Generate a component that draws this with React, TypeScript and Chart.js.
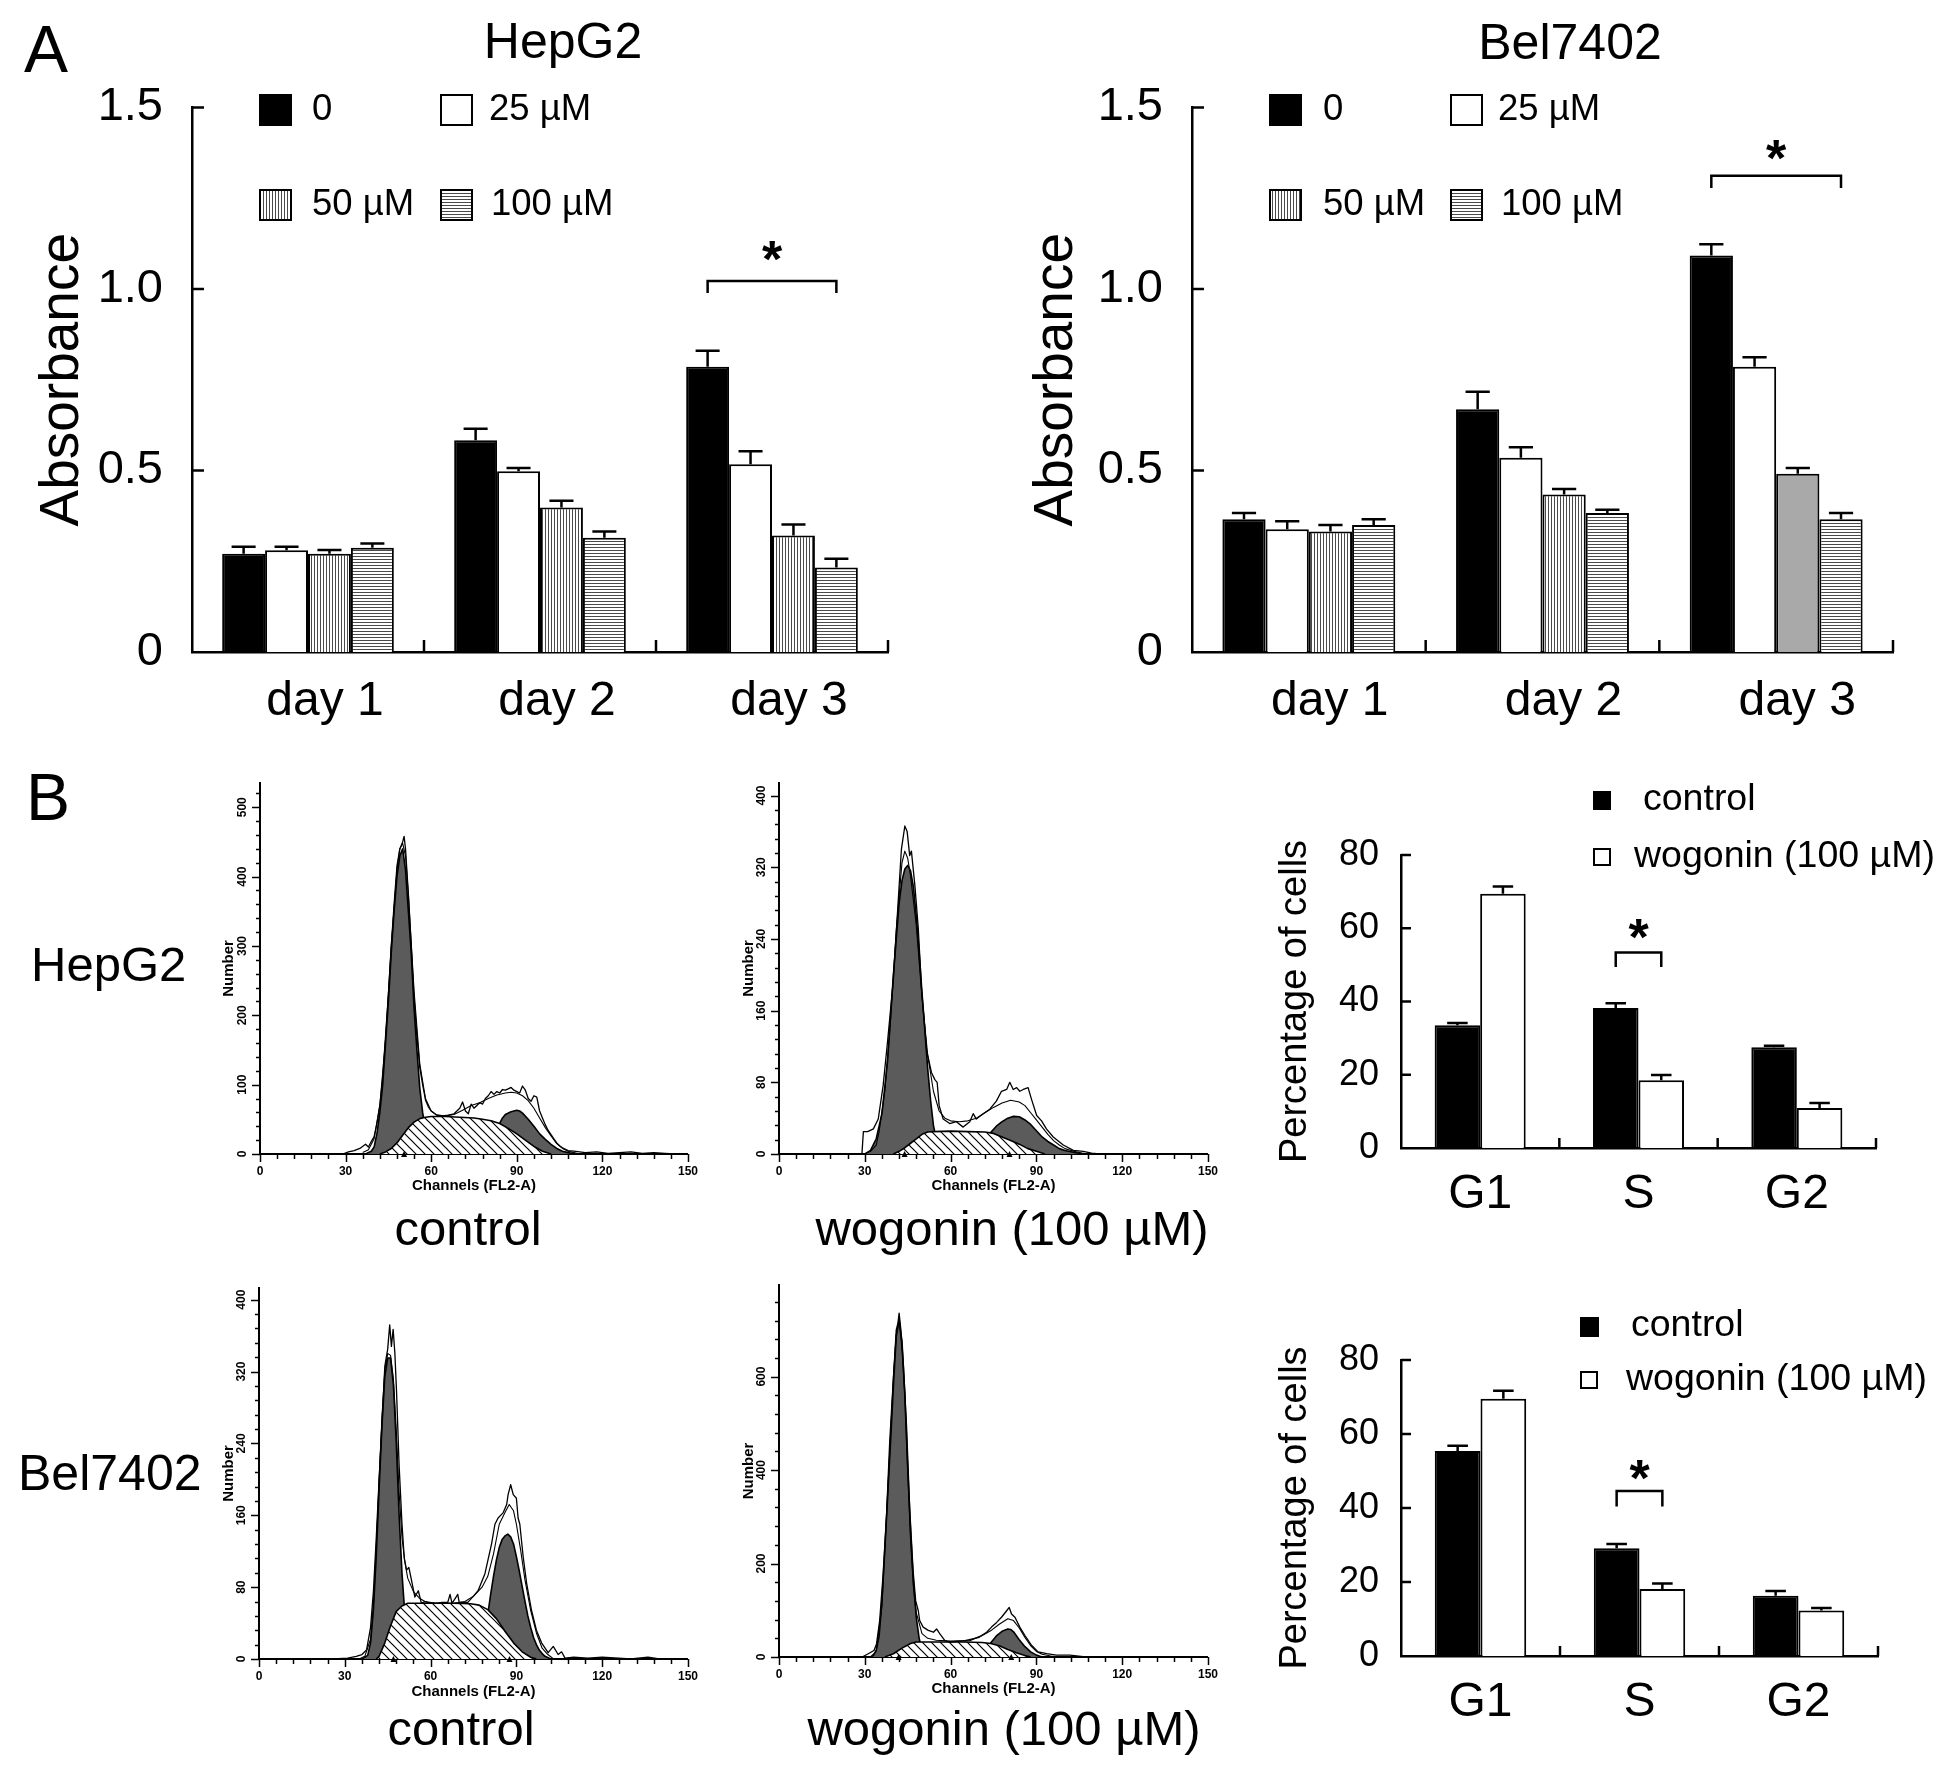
import React, { useEffect, useRef } from 'react';
import { Chart, registerables } from 'chart.js';

Chart.register(...registerables);

const FONT = '"Liberation Sans", Arial, Helvetica, sans-serif';

// ---------------- Panel A : absorbance ----------------
const dayLabels = ['day 1', 'day 2', 'day 3'];
const doseLabels = ['0', '25 µM', '50 µM', '100 µM'];
const absTickValues = [0, 0.5, 1.0, 1.5];

const hepAbs0 = [0.271, 0.583, 0.786];
const hepAbs25 = [0.28, 0.498, 0.517];
const hepAbs50 = [0.271, 0.398, 0.321];
const hepAbs100 = [0.287, 0.315, 0.233];
const hepAbsErr0 = [0.019, 0.032, 0.044];
const hepAbsErr25 = [0.01, 0.009, 0.036];
const hepAbsErr50 = [0.01, 0.019, 0.03];
const hepAbsErr100 = [0.012, 0.017, 0.024];

const belAbs0 = [0.366, 0.669, 1.092];
const belAbs25 = [0.338, 0.535, 0.786];
const belAbs50 = [0.332, 0.434, 0.491];
const belAbs100 = [0.35, 0.383, 0.366];
const belAbsErr0 = [0.017, 0.048, 0.031];
const belAbsErr25 = [0.022, 0.029, 0.026];
const belAbsErr50 = [0.018, 0.015, 0.016];
const belAbsErr100 = [0.016, 0.009, 0.017];

// significance bracket (category, from dataset, to dataset, bracket top, leg end, star centre)
const hepAbsSig = { cat: 2, from: 0, to: 3, top: 1.022, leg: 0.989, star: 1.114 };
const belAbsSig = { cat: 2, from: 0, to: 3, top: 1.312, leg: 1.278, star: 1.394 };

// ---------------- Panel B : cell cycle ----------------
const cycleLabels = ['G1', 'S', 'G2'];
const cycleSeries = ['control', 'wogonin (100 µM)'];
const cycleTickValues = [0, 20, 40, 60, 80];

const hepCycleControl = [33.5, 38.2, 27.5];
const hepCycleControlErr = [0.6, 1.3, 0.4];
const hepCycleWogonin = [69.4, 18.5, 10.9];
const hepCycleWogoninErr = [2.0, 1.4, 1.4];
const belCycleControl = [55.4, 29.1, 16.3];
const belCycleControlErr = [1.4, 1.2, 1.3];
const belCycleWogonin = [69.5, 18.1, 12.3];
const belCycleWogoninErr = [2.2, 1.5, 0.7];

const hepCycleSig = { cat: 1, from: 0, to: 1, top: 53.4, leg: 49.4, star: 60.9 };
const belCycleSig = { cat: 1, from: 0, to: 1, top: 44.6, leg: 40.4, star: 51.2 };

// ---------------- Panel B : DNA histograms [channel, number] ----------------
const channelTickLabels = [0, 30, 60, 90, 120, 150];

// HepG2 control
const h1Raw = [[29,0],[31,3],[33,5],[35,8],[37,14],[38,10],[39,18],[40,25],[41,45],[42,70],[43,110],[44,170],[45,230],[46,300],[47,360],[48,415],[49,440],[50,450],[50.5,458],[51,440],[52,375],[53,300],[54,225],[55,170],[56,125],[57,100],[58,78],[59,68],[60,62],[62,56],[64,55],[66,56],[68,58],[70,66],[71,75],[72,62],[73,58],[74,72],[75,66],[76,70],[77,74],[78,72],[79,80],[80,84],[81,90],[82,86],[83,90],[84,88],[85,93],[86,92],[87,94],[88,96],[89,92],[90,90],[91,88],[92,98],[93,92],[94,80],[95,76],[96,84],[97,82],[98,62],[99,52],[100,42],[101,34],[102,28],[103,22],[104,16],[105,12],[106,9],[108,5],[110,4],[114,2],[118,3],[122,1],[126,2],[130,3],[134,1],[138,2],[142,1],[145,0]];
const h1Fit = [[36,2],[38,6],[40,22],[42,70],[44,165],[46,300],[48,410],[49,440],[50,448],[51,430],[52,375],[54,235],[56,130],[58,80],[60,62],[62,56],[65,55],[68,57],[71,63],[74,70],[77,74],[80,80],[83,85],[86,88],[88,89],[90,88],[92,84],[94,77],[96,66],[98,52],[100,38],[102,26],[104,15],[106,8],[108,4],[110,2],[112,0]];
const h1G1 = [[37,0],[39,4],[40,10],[41,30],[42,60],[43,100],[44,160],[45,220],[46,290],[47,350],[48,400],[49,430],[50,440],[51,410],[52,350],[53,290],[54,210],[55,150],[56,95],[57,60],[58,35],[59,18],[60,8],[61,3],[62,0]];
const h1S = [[42,0],[44,3],[46,8],[48,16],[50,27],[52,38],[54,46],[56,51],[58,53],[60,54],[65,54],[70,53],[75,52],[78,50],[81,48],[84,44],[87,37],[90,29],[93,20],[96,11],[99,4],[102,0]];
const h1G2 = [[76,0],[78,5],[80,14],[82,28],[84,44],[85,52],[86,57],[88,61],[90,63],[91,62],[92,59],[94,50],[96,40],[98,29],[100,21],[102,14],[104,8],[106,4],[108,2],[110,0]];
const h1Markers = [50.5];
const h1YLabels = [0, 100, 200, 300, 400, 500];

// HepG2 wogonin
const h2Raw = [[29,0],[29.5,25],[31,25],[33,28],[34.7,39],[36.4,76],[38,127],[40,195],[41.6,278],[42.8,340],[44,366],[44.8,360],[45.7,333],[46.3,338],[47.5,300],[48.7,252],[49.8,186],[51.6,116],[53.3,91],[54.5,83],[55.3,80],[56,54],[57.4,39],[59.7,34],[62,36],[64.4,30],[66.7,36],[67.9,45],[69,39],[71.4,45],[73.7,50],[76,59],[77.8,70],[79.6,72],[80.7,80],[81.9,72],[83.1,74],[84.2,70],[85.4,72],[87.1,74],[88.3,61],[90.1,43],[91.8,37],[93.5,28],[95.9,19],[99.4,10],[102.9,4],[106.4,3],[109.3,1],[112,0]];
const h2Fit = [[30,0],[32,3],[34,10],[35,25],[37,70],[39,150],[41,250],[43,325],[44,338],[45,330],[46,310],[48,255],[50,175],[52,110],[54,70],[56,48],[58,40],[60,37],[63,36],[66,37],[69,40],[72,46],[75,52],[78,57],[81,60],[84,58],[86,54],[88,46],[90,38],[92,30],[94,22],[96,15],[98,10],[100,6],[103,3],[106,1],[108,0]];
const h2G1 = [[30,0],[32,4],[34,17],[36,45],[38,105],[40,200],[42,280],[43,305],[44,318],[45,322],[46,316],[47,298],[48,265],[49,225],[50,180],[51,138],[52,95],[53,60],[54,32],[55,16],[56,7],[57,2],[58,0]];
const h2S = [[40,0],[42,3],[44,7],[46,12],[48,17],[50,22],[52,24.5],[54,25],[60,25.5],[66,25],[72,24.5],[75,23],[78,19],[81,15],[84,11],[87,6],[90,3],[93,0]];
const h2G2 = [[68,0],[70,4],[72,12],[74,24],[76,31],[78,36],[80,40],[82,42],[84,41.5],[86,38],[88,33],[90,26],[92,19],[94,14],[96,10],[98,6],[100,4],[103,2],[106,0]];
const h2Markers = [43.9, 80.6];
const h2YLabels = [0, 80, 160, 240, 320, 400];

// Bel7402 control
const b1Raw = [[26,0],[31,1],[34,3],[36,5],[37.6,10],[39,35],[40,75],[41,135],[42,200],[43,262],[44,326],[45,345],[45.7,372],[46.3,348],[46.9,367],[47.5,341],[48.1,297],[49,215],[50,150],[50.8,112],[51.6,99],[52.4,102],[53.3,88],[54.5,69],[55.7,76],[56.8,62],[58,64],[60,62],[62,62],[64,63],[66,63],[66.8,72],[67.5,62],[69.5,72],[70,63],[73,63],[75,70],[76.6,76],[79,95],[81.3,128],[82.5,150],[83.6,157],[85.4,163],[86.6,172],[87.1,183],[88,194],[88.9,183],[90,179],[90.6,157],[91.2,150],[92.4,113],[93.6,84],[95.3,54],[97,32],[98.8,18],[101.1,7],[102.9,14],[104.6,5],[105.8,8],[107,1],[110,2],[115,1],[120,2],[130,0],[136,2],[140,0]];
const b1Fit = [[35,0],[37,3],[39,22],[40,60],[41,125],[42,200],[43,270],[44,322],[45,340],[46,338],[47,312],[48,255],[49,185],[50,135],[51,108],[52,90],[54,75],[56,68],[58,64],[62,62],[68,62],[72,64],[75,70],[78,80],[80,92],[82,117],[84,150],[86,163],[87.5,172],[89,165],[90,150],[91.5,121],[93,88],[95,54],[97,29],[99,12],[101,5],[103,0]];
const b1G1 = [[36,0],[38,4],[39,18],[40,55],[41,115],[42,190],[43,260],[44,315],[45,335],[46,335],[47,305],[48,240],[49,160],[50,95],[51,50],[52,22],[53,8],[54,2],[55,0]];
const b1S = [[41,0],[42,3],[44,18],[46,37],[48,53],[50,59],[52,62],[56,62],[62,62],[68,62],[74,61.5],[77,60],[80,55],[83,45],[86,31],[89,18],[92,8],[95,2],[97,0]];
const b1G2 = [[76,0],[78,15],[80,50],[81,72],[82,92],[83,110],[84,124],[85,133],[86,137],[87,139],[88,136],[89,128],[90,114],[91,98],[92,81],[93,64],[94,48],[95,35],[96,24],[97,16],[98,10],[99,6],[100,3],[102,0]];
const b1Markers = [47, 87.6];
const b1YLabels = [0, 80, 160, 240, 320, 400];

// Bel7402 wogonin
const b2Raw = [[29.4,1],[31.2,7],[33.2,14],[34.1,28],[35.2,78],[36.4,177],[37.6,304],[38.7,460],[39.9,587],[41,700],[41.6,715],[42,736],[42.5,707],[43.4,637],[44.6,495],[45.7,318],[46.9,184],[47.8,120],[48.7,99],[49.2,78],[50.4,64],[52.2,57],[54,53],[55.1,60],[56.2,50],[58,35],[59.7,32],[63.2,34],[66.7,35],[70.2,44],[72.6,53],[74.3,64],[76.1,74],[77.8,85],[79.6,99],[80.5,106],[81.3,92],[82.5,85],[84.2,64],[86,46],[88.3,25],[90.6,11],[93.6,7],[97,4],[101.7,4],[106.4,1],[110,0]];
const b2Fit = [[32,0],[34,12],[36,110],[38,350],[40,600],[41,690],[42,720],[43,660],[44,560],[45,400],[46,250],[47,150],[48,95],[50,50],[52,40],[55,36],[60,34],[65,35],[70,42],[74,56],[77,70],[80,82],[82,78],[84,62],[86,42],[88,24],[90,12],[92,6],[95,2],[98,0]];
const b2G1 = [[32,0],[33,3],[34,15],[35,45],[36,120],[37,230],[38,345],[39,460],[40,580],[41,686],[42,722],[43,675],[44,560],[45,405],[46,270],[47,160],[48,85],[49,40],[50,15],[51,5],[52,0]];
const b2S = [[37,0],[40,7],[43,19],[46,29],[48,32],[55,32],[65,32],[71,31],[74,29],[77,24],[80,16],[83,9],[86,3],[88,0]];
const b2G2 = [[70,0],[72,12],[74,30],[76,45],[78,55],[80,60],[81,59],[82,54],[84,37],[86,22],[88,11],[90,4],[92,0]];
const b2Markers = [41.8, 81.2];
const b2YLabels = [0, 200, 400, 600];

// ---------------- helpers ----------------
function makeStripes(vertical: boolean) {
  const c = document.createElement('canvas');
  c.width = 3; c.height = 3;
  const g = c.getContext('2d')!;
  g.fillStyle = '#fff'; g.fillRect(0, 0, 3, 3);
  g.fillStyle = '#4a4a4a';
  if (vertical) g.fillRect(0, 0, 1, 3); else g.fillRect(0, 0, 3, 1);
  return g.createPattern(c, 'repeat');
}

function makeHatch() {
  const c = document.createElement('canvas');
  c.width = 9; c.height = 9;
  const g = c.getContext('2d')!;
  g.fillStyle = '#fff'; g.fillRect(0, 0, 9, 9);
  g.strokeStyle = '#000'; g.lineWidth = 1.2;
  g.beginPath();
  g.moveTo(-1, -1); g.lineTo(10, 10);
  g.moveTo(-1, 8); g.lineTo(1, 10);
  g.moveTo(8, -1); g.lineTo(10, 1);
  g.stroke();
  return g.createPattern(c, 'repeat');
}

function barDecor(spec: any) {
  const { L, T } = spec.box;
  return {
    id: 'barDecor',
    afterDraw(chart: any) {
      const { ctx, chartArea: a, scales } = chart;
      const ys = scales.y;
      ctx.save();
      ctx.strokeStyle = '#000';
      ctx.fillStyle = '#000';
      // error bars
      ctx.lineWidth = spec.errWidth;
      chart.data.datasets.forEach((ds: any, d: number) => {
        const meta = chart.getDatasetMeta(d);
        meta.data.forEach((el: any, i: number) => {
          const p = el.getProps(['x', 'y', 'width'], true);
          const yE = ys.getPixelForValue(ds.data[i] + spec.series[d].err[i]);
          const cw = p.width * spec.capRatio;
          ctx.beginPath();
          ctx.moveTo(p.x, p.y); ctx.lineTo(p.x, yE);
          ctx.moveTo(p.x - cw / 2, yE); ctx.lineTo(p.x + cw / 2, yE);
          ctx.stroke();
        });
      });
      // inward tick marks
      ctx.lineWidth = spec.axisWidth;
      ys.ticks.forEach((t: any) => {
        if (t.value === 0) return;
        const py = ys.getPixelForValue(t.value);
        ctx.beginPath(); ctx.moveTo(a.left, py); ctx.lineTo(a.left + spec.tickLen, py); ctx.stroke();
      });
      const n = chart.data.labels.length;
      for (let i = 1; i <= n; i++) {
        const px = a.left + ((a.right - a.left) * i) / n;
        ctx.beginPath(); ctx.moveTo(px, a.bottom); ctx.lineTo(px, a.bottom - spec.tickLen); ctx.stroke();
      }
      // significance bracket
      const s = spec.sig;
      const x1 = chart.getDatasetMeta(s.from).data[s.cat].x;
      const x2 = chart.getDatasetMeta(s.to).data[s.cat].x;
      const yT = ys.getPixelForValue(s.top);
      const yL = ys.getPixelForValue(s.leg);
      ctx.lineWidth = spec.bracketWidth;
      ctx.beginPath();
      ctx.moveTo(x1, yL); ctx.lineTo(x1, yT); ctx.lineTo(x2, yT); ctx.lineTo(x2, yL);
      ctx.stroke();
      ctx.font = `bold ${spec.starSize}px ${FONT}`;
      ctx.textAlign = 'center';
      ctx.textBaseline = 'alphabetic';
      ctx.fillText('*', (x1 + x2) / 2, ys.getPixelForValue(s.star) + 0.57 * spec.starSize);
      // legend
      ctx.font = `${spec.legendFont}px ${FONT}`;
      ctx.textAlign = 'left';
      ctx.textBaseline = 'middle';
      spec.legend.forEach((it: any) => {
        const ds = chart.data.datasets[it.ds];
        const bg = Array.isArray(ds.backgroundColor) ? ds.backgroundColor[0] : ds.backgroundColor;
        const [sx, sy, sw, sh] = it.sq;
        ctx.fillStyle = bg;
        ctx.fillRect(sx - L, sy - T, sw, sh);
        ctx.lineWidth = 2;
        ctx.strokeRect(sx - L + 1, sy - T + 1, sw - 2, sh - 2);
        ctx.fillStyle = '#000';
        ctx.fillText(ds.label, it.tx - L, it.ty - T);
      });
      ctx.restore();
    },
  };
}

function makeBarConfig(spec: any) {
  const { L, T, W, H, axL, axR, axT, axB } = spec.box;
  return {
    type: 'bar',
    data: {
      labels: spec.labels,
      datasets: spec.series.map((s: any) => ({
        label: s.label,
        data: s.data,
        backgroundColor: s.fill,
        borderColor: '#000',
        borderWidth: spec.barBorder,
        borderSkipped: 'bottom',
        categoryPercentage: spec.catPct,
        barPercentage: 1,
      })),
    },
    options: {
      animation: false,
      responsive: false,
      devicePixelRatio: 1,
      layout: { padding: { top: axT - T, right: L + W - axR, left: 0, bottom: 0 } },
      plugins: { legend: { display: false }, tooltip: { enabled: false } },
      scales: {
        x: {
          grid: { display: false, drawTicks: false },
          border: { display: true, color: '#000', width: spec.axisWidth },
          ticks: { color: '#000', padding: spec.catPad, labelOffset: spec.catOffset, font: { family: FONT, size: spec.catFont, lineHeight: 1 } },
          afterFit: (sc: any) => { sc.height = T + H - axB; },
        },
        y: {
          min: 0,
          max: spec.yMax,
          grid: { display: false, drawTicks: false },
          border: { display: true, color: '#000', width: spec.axisWidth },
          afterBuildTicks: (sc: any) => { sc.ticks = spec.yTicks.map((v: number) => ({ value: v })); },
          ticks: { color: '#000', padding: spec.tickPad, font: { family: FONT, size: spec.tickFont, lineHeight: 1 }, callback: spec.yFmt },
          title: { display: true, text: spec.yTitle, color: '#000', padding: 0, font: { family: FONT, size: spec.yTitleSize, lineHeight: 1 } },
          afterFit: (sc: any) => { sc.width = axL - L; },
        },
      },
    },
    plugins: [barDecor(spec)],
  };
}

function histDecor(markers: number[]) {
  return {
    id: 'histDecor',
    afterDraw(chart: any) {
      const { ctx, chartArea: a, scales } = chart;
      const xs = scales.x;
      const ys = scales.y;
      ctx.save();
      ctx.strokeStyle = '#000';
      ctx.fillStyle = '#000';
      ctx.lineWidth = 1.5;
      ys.ticks.forEach((t: any) => {
        const py = Math.round(ys.getPixelForValue(t.value)) + 0.5;
        const len = t.label ? 8 : 4;
        ctx.beginPath(); ctx.moveTo(a.left - len, py); ctx.lineTo(a.left, py); ctx.stroke();
      });
      xs.ticks.forEach((t: any) => {
        const px = Math.round(xs.getPixelForValue(t.value)) + 0.5;
        const len = t.label ? 8 : 5;
        ctx.beginPath(); ctx.moveTo(px, a.bottom); ctx.lineTo(px, a.bottom + len); ctx.stroke();
      });
      markers.forEach((m) => {
        const px = xs.getPixelForValue(m);
        ctx.beginPath();
        ctx.moveTo(px - 3, a.bottom + 3); ctx.lineTo(px + 3, a.bottom + 3); ctx.lineTo(px, a.bottom - 3);
        ctx.closePath(); ctx.fill();
      });
      ctx.restore();
    },
  };
}

function makeHistConfig(spec: any) {
  const { L, T, W, H, axL, axR, axT, axB } = spec.box;
  const pts = (arr: number[][]) => arr.map(([x, y]) => ({ x, y }));
  const hatch = makeHatch();
  const gray = '#5b5b5b';
  return {
    type: 'line',
    data: {
      datasets: [
        { label: 'data', data: pts(spec.raw), borderColor: '#000', borderWidth: 1.3, fill: false, order: 0 },
        { label: 'fit', data: pts(spec.fit), borderColor: '#000', borderWidth: 1.1, fill: false, order: 1 },
        { label: 'S', data: pts(spec.s), borderColor: '#000', borderWidth: 1.6, backgroundColor: hatch, fill: 'origin', order: 2 },
        { label: 'G2', data: pts(spec.g2), borderColor: '#000', borderWidth: 1.6, backgroundColor: gray, fill: 'origin', order: 3 },
        { label: 'G1', data: pts(spec.g1), borderColor: '#000', borderWidth: 1.6, backgroundColor: gray, fill: 'origin', order: 4 },
      ],
    },
    options: {
      animation: false,
      responsive: false,
      devicePixelRatio: 1,
      elements: { point: { radius: 0 }, line: { tension: 0, borderJoinStyle: 'round' } },
      layout: { padding: { top: axT - T, right: L + W - axR, left: 0, bottom: 0 } },
      plugins: { legend: { display: false }, tooltip: { enabled: false } },
      scales: {
        x: {
          type: 'linear', min: 0, max: 150,
          grid: { display: false, drawTicks: false },
          border: { display: true, color: '#000', width: 2 },
          ticks: {
            stepSize: 6, autoSkip: false, maxRotation: 0, minRotation: 0, includeBounds: false, maxTicksLimit: 1000,
            padding: 12, color: '#000', font: { family: FONT, size: 12, weight: 'bold', lineHeight: 1 },
            callback: (v: number) => (channelTickLabels.includes(v) ? String(v) : ''),
          },
          title: { display: true, text: 'Channels (FL2-A)', color: '#000', padding: { top: 0, bottom: 7 }, font: { family: FONT, size: 15, weight: 'bold', lineHeight: 1 } },
          afterFit: (sc: any) => { sc.height = T + H - axB; },
        },
        y: {
          type: 'linear', min: 0, max: spec.yMax,
          grid: { display: false, drawTicks: false },
          border: { display: true, color: '#000', width: 2 },
          ticks: {
            stepSize: spec.yStep, autoSkip: false, includeBounds: false, maxTicksLimit: 1000,
            minRotation: 90, maxRotation: 90, crossAlign: 'center', padding: 7,
            color: '#000', font: { family: FONT, size: 12, weight: 'bold', lineHeight: 1 },
            callback: (v: number) => (spec.yLabels.includes(v) ? String(v) : ''),
          },
          title: { display: true, text: 'Number', color: '#000', padding: 0, font: { family: FONT, size: 15, weight: 'bold', lineHeight: 1 } },
          afterFit: (sc: any) => { sc.width = axL - L; },
        },
      },
    },
    plugins: [histDecor(spec.markers)],
  };
}

// ---------------- chart specs ----------------
const absFmt = (v: number) => (v === 0 ? '0' : Number(v).toFixed(1));

function absSpec(box: any, vals: number[][], errs: number[][], legend: any[], sig: any, solidLast50: boolean, catOffset: number) {
  const vs = makeStripes(true);
  const hs = makeStripes(false);
  const fills: any[] = ['#000', '#fff', solidLast50 ? [vs, vs, '#a9a9a9'] : vs, hs];
  return {
    box, labels: dayLabels,
    series: vals.map((v, d) => ({ label: doseLabels[d], data: v, err: errs[d], fill: fills[d] })),
    catPct: 0.74, yMax: 1.5, yTicks: absTickValues, yFmt: absFmt, yTitle: 'Absorbance', yTitleSize: 55,
    tickFont: 47, tickPad: 29, catFont: 48, catPad: 26, catOffset, barBorder: 2, axisWidth: 2.5, errWidth: 2.5,
    capRatio: 0.56, tickLen: 12, bracketWidth: 2.5, starSize: 52, legendFont: 36.5, legend, sig,
  };
}

function cycleSpec(box: any, vals: number[][], errs: number[][], legend: any[], sig: any) {
  const fills = ['#000', '#fff'];
  return {
    box, labels: cycleLabels,
    series: vals.map((v, d) => ({ label: cycleSeries[d], data: v, err: errs[d], fill: fills[d] })),
    catPct: 0.575, yMax: 80, yTicks: cycleTickValues, yFmt: (v: number) => String(v), yTitle: 'Percentage of cells', yTitleSize: 38,
    tickFont: 36, tickPad: 22, catFont: 48, catPad: 23, catOffset: 0, barBorder: 2, axisWidth: 2.5, errWidth: 2.5,
    capRatio: 0.45, tickLen: 10, bracketWidth: 2.5, starSize: 52, legendFont: 37.5, legend, sig,
  };
}

const charts: { box: any; make: () => any }[] = [
  {
    box: { L: 35, T: 55, W: 870, H: 690, axL: 192, axR: 888, axT: 100, axB: 652 },
    make: function () {
      return makeBarConfig(absSpec(this.box, [hepAbs0, hepAbs25, hepAbs50, hepAbs100], [hepAbsErr0, hepAbsErr25, hepAbsErr50, hepAbsErr100],
        [{ ds: 0, sq: [259, 94, 33, 32], tx: 312, ty: 110 }, { ds: 1, sq: [440, 94, 33, 32], tx: 489, ty: 110 },
         { ds: 2, sq: [259, 189, 33, 32], tx: 312, ty: 205 }, { ds: 3, sq: [440, 189, 33, 32], tx: 491, ty: 205 }], hepAbsSig, false, 17));
    },
  },
  {
    box: { L: 1029, T: 55, W: 881, H: 690, axL: 1192, axR: 1893, axT: 100, axB: 652 },
    make: function () {
      return makeBarConfig(absSpec(this.box, [belAbs0, belAbs25, belAbs50, belAbs100], [belAbsErr0, belAbsErr25, belAbsErr50, belAbsErr100],
        [{ ds: 0, sq: [1269, 94, 33, 32], tx: 1323, ty: 110 }, { ds: 1, sq: [1450, 94, 33, 32], tx: 1498, ty: 110 },
         { ds: 2, sq: [1269, 189, 33, 32], tx: 1323, ty: 205 }, { ds: 3, sq: [1450, 189, 33, 32], tx: 1501, ty: 205 }], belAbsSig, true, 21));
    },
  },
  {
    box: { L: 1277, T: 770, W: 663, H: 458, axL: 1401, axR: 1876, axT: 855, axB: 1148 },
    make: function () {
      return makeBarConfig(cycleSpec(this.box, [hepCycleControl, hepCycleWogonin], [hepCycleControlErr, hepCycleWogoninErr],
        [{ ds: 0, sq: [1593, 791, 18, 19], tx: 1643, ty: 800 }, { ds: 1, sq: [1593, 848, 18, 18], tx: 1634, ty: 857 }], hepCycleSig));
    },
  },
  {
    box: { L: 1277, T: 1290, W: 663, H: 446, axL: 1401, axR: 1878, axT: 1360, axB: 1656 },
    make: function () {
      return makeBarConfig(cycleSpec(this.box, [belCycleControl, belCycleWogonin], [belCycleControlErr, belCycleWogoninErr],
        [{ ds: 0, sq: [1580, 1317, 19, 20], tx: 1631, ty: 1326 }, { ds: 1, sq: [1580, 1371, 18, 18], tx: 1626, ty: 1380 }], belCycleSig));
    },
  },
  {
    box: { L: 221, T: 770, W: 489, H: 430, axL: 260, axR: 688, axT: 779, axB: 1154 },
    make: function () {
      return makeHistConfig({ box: this.box, raw: h1Raw, fit: h1Fit, g1: h1G1, s: h1S, g2: h1G2, markers: h1Markers, yMax: 535, yStep: 20, yLabels: h1YLabels });
    },
  },
  {
    box: { L: 741, T: 770, W: 489, H: 430, axL: 779, axR: 1208, axT: 778, axB: 1154 },
    make: function () {
      return makeHistConfig({ box: this.box, raw: h2Raw, fit: h2Fit, g1: h2G1, s: h2S, g2: h2G2, markers: h2Markers, yMax: 414, yStep: 16, yLabels: h2YLabels });
    },
  },
  {
    box: { L: 221, T: 1275, W: 489, H: 431, axL: 259, axR: 688, axT: 1285, axB: 1659 },
    make: function () {
      return makeHistConfig({ box: this.box, raw: b1Raw, fit: b1Fit, g1: b1G1, s: b1S, g2: b1G2, markers: b1Markers, yMax: 413, yStep: 16, yLabels: b1YLabels });
    },
  },
  {
    box: { L: 741, T: 1272, W: 489, H: 431, axL: 779, axR: 1208, axT: 1282, axB: 1657 },
    make: function () {
      return makeHistConfig({ box: this.box, raw: b2Raw, fit: b2Fit, g1: b2G1, s: b2S, g2: b2G2, markers: b2Markers, yMax: 796, yStep: 40, yLabels: b2YLabels });
    },
  },
];

function ChartBox({ spec }: { spec: { box: any; make: () => any } }) {
  const ref = useRef<HTMLCanvasElement>(null);
  useEffect(() => {
    const chart = new Chart(ref.current as HTMLCanvasElement, spec.make() as any);
    return () => chart.destroy();
  }, []);
  const { L, T, W, H } = spec.box;
  return (
    <canvas
      ref={ref}
      width={W}
      height={H}
      style={{ position: 'absolute', left: L, top: T, width: W, height: H }}
    />
  );
}

function Txt({ x, y, size, align = 'left', children }: any) {
  const style: any = {
    position: 'absolute',
    top: y - 0.8465 * size,
    fontSize: size,
    lineHeight: `${size}px`,
    fontFamily: FONT,
    whiteSpace: 'nowrap',
    color: '#000',
  };
  if (align === 'center') {
    style.left = x - 600;
    style.width = 1200;
    style.textAlign = 'center';
  } else {
    style.left = x;
  }
  return <div style={style}>{children}</div>;
}

export default function App() {
  return (
    <div style={{ position: 'absolute', left: 0, top: 0, width: 1947, height: 1776, background: '#fff', overflow: 'hidden' }}>
      <Txt x={24} y={72} size={66}>A</Txt>
      <Txt x={563} y={58} size={50} align="center">HepG2</Txt>
      <Txt x={1570} y={59} size={50} align="center">Bel7402</Txt>
      <Txt x={26} y={820} size={66}>B</Txt>
      <Txt x={31} y={981} size={49}>HepG2</Txt>
      <Txt x={18} y={1490} size={50}>Bel7402</Txt>
      <Txt x={468} y={1245} size={49} align="center">{cycleSeries[0]}</Txt>
      <Txt x={1012} y={1245} size={49} align="center">{cycleSeries[1]}</Txt>
      <Txt x={461} y={1745} size={49} align="center">{cycleSeries[0]}</Txt>
      <Txt x={1004} y={1745} size={49} align="center">{cycleSeries[1]}</Txt>
      {charts.map((c, i) => (
        <ChartBox key={i} spec={c} />
      ))}
    </div>
  );
}
